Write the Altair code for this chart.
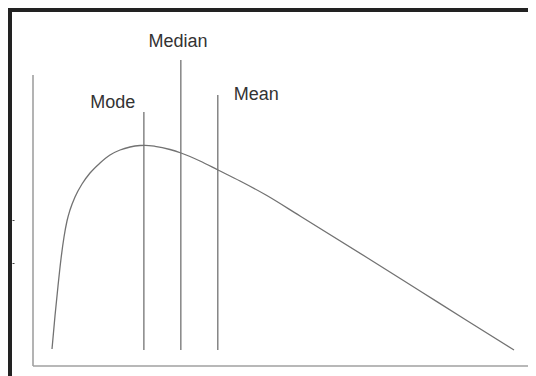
import altair as alt
import pandas as pd

# Skewed distribution curve (x in value units, y in density units)
curve_x = [0.396, 0.458, 0.521, 0.583, 0.646, 0.708, 0.771, 0.875, 1.021, 1.188, 1.396,
           1.604, 1.813, 2.021, 2.229, 2.333, 2.542, 2.854, 3.083, 3.479, 3.854, 4.313,
           4.854, 5.563, 6.938, 8.063, 9.021, 10.021]
curve_y = [0.017, 0.050, 0.080, 0.107, 0.129, 0.145, 0.156, 0.169, 0.182, 0.193, 0.203,
           0.211, 0.216, 0.219, 0.2205, 0.2207, 0.2197, 0.2165, 0.213, 0.205, 0.196, 0.185,
           0.171, 0.150, 0.109, 0.075, 0.046, 0.016]

# Marker lines: mode / median / mean
stat_names = ["Mode", "Median", "Mean"]
stat_x = [2.31, 3.08, 3.85]
stat_top = [0.254, 0.306, 0.271]
stat_bottom = [0.016, 0.016, 0.016]
label_x = [1.66, 3.02, 4.65]
label_y = [0.258, 0.319, 0.266]

# Axis frame of the drawing
axis_top = 0.291
axis_right = 12.0
tick_values = [0.103, 0.146]

W, H = 548, 380
PX_PER_X = 48.0
PX_PER_Y = 1000.0
ORIGIN_X_PX = 23.0   # distance of x=0 from plot left edge
ORIGIN_Y_PX = 356.0  # distance of y=0 from plot top edge

x_scale = alt.Scale(domain=[-ORIGIN_X_PX / PX_PER_X, (W - ORIGIN_X_PX) / PX_PER_X], nice=False, zero=False)
y_scale = alt.Scale(domain=[-(H - ORIGIN_Y_PX) / PX_PER_Y, ORIGIN_Y_PX / PX_PER_Y], nice=False, zero=False)

curve_df = pd.DataFrame({"x": curve_x, "y": curve_y})
stats_df = pd.DataFrame({"name": stat_names, "x": stat_x, "top": stat_top, "bottom": stat_bottom,
                         "lx": label_x, "ly": label_y})
axes_df = pd.DataFrame({"x": [0.0, 0.0], "x2": [0.0, axis_right], "y": [0.0, 0.0], "y2": [axis_top, 0.0]})

LINE = "#727272"

curve = alt.Chart(curve_df).mark_line(color=LINE, strokeWidth=1.3, interpolate="monotone").encode(
    x=alt.X("x:Q", scale=x_scale, axis=None),
    y=alt.Y("y:Q", scale=y_scale, axis=alt.Axis(values=tick_values, labels=False, domain=False, grid=False,
                                               ticks=True, tickSize=2, tickColor="#444", offset=-4, title=None)),
)

rules = alt.Chart(stats_df).mark_rule(color=LINE, strokeWidth=1.3).encode(
    x=alt.X("x:Q", scale=x_scale, axis=None),
    y=alt.Y("bottom:Q", scale=y_scale),
    y2="top:Q",
)

labels = alt.Chart(stats_df).mark_text(font="Liberation Sans", fontSize=18, color="#333",
                                       align="center", baseline="alphabetic").encode(
    x=alt.X("lx:Q", scale=x_scale, axis=None),
    y=alt.Y("ly:Q", scale=y_scale),
    text="name:N",
)

frame = alt.Chart(axes_df).mark_rule(color="#a0a0a0", strokeWidth=1.6).encode(
    x=alt.X("x:Q", scale=x_scale, axis=None),
    x2="x2:Q",
    y=alt.Y("y:Q", scale=y_scale),
    y2="y2:Q",
)

chart = alt.layer(frame, rules, curve, labels).properties(
    width=W, height=H,
    autosize=alt.AutoSizeParams(type="none"),
    padding=alt.Padding(left=2, top=2, right=-30, bottom=0),
    background="white",
).configure_view(stroke="#222", strokeWidth=4)

chart.save("out.html", embed_options={"renderer": "svg", "actions": False})
